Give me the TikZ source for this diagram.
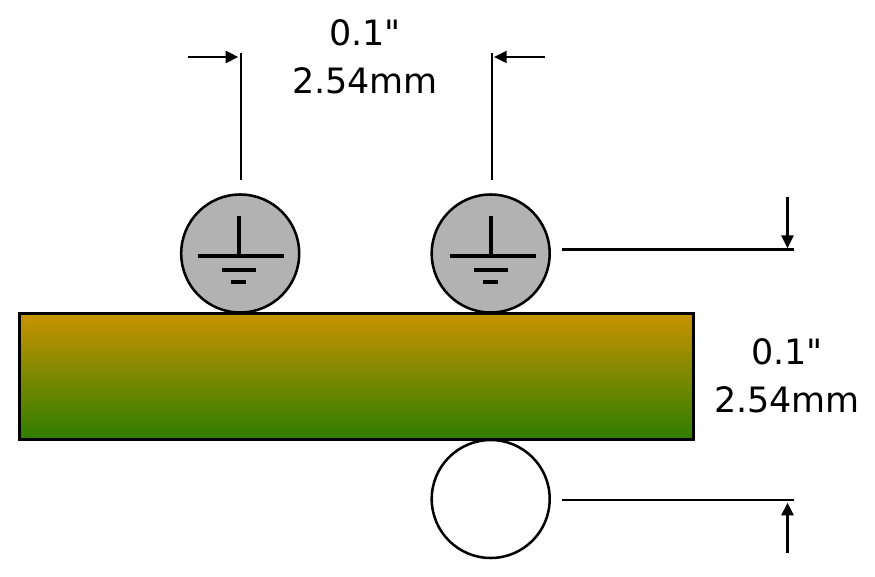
\documentclass[tikz,border=0pt]{standalone}
\usepackage{fontspec}
\setmainfont{DejaVu Sans}[Ligatures=TeXOff]
\usetikzlibrary{arrows.meta}

\begin{document}
\begin{tikzpicture}[
    x=0.75pt,
    y=-0.75pt,
    >={Triangle[length=9.5pt,width=9pt]},
    dim/.style = {
      line width = 1.7pt,
      black
    },
    pad/.style = {
      draw,
      line width = 1.9pt,
      circle,
      inner sep = 0pt,
      outer sep = 0pt,
      minimum size = 88.5pt
    },
    gnd/.style = {
      line width = 2.3pt
    },
    label/.style = {
      font=\fontsize{26.2}{36}\selectfont,
      align = center,
      inner sep = 0pt
    }
  ]
  \useasboundingbox (0,0) rectangle (875,577);
  % board and pads
  \node[draw, line width = 2.1pt, inner sep = 0pt, outer sep = 0pt,
        minimum width = 506pt, minimum height = 94pt,
        top color = {rgb,255:red,200;green,147;blue,0},
        bottom color = {rgb,255:red,47;green,125;blue,0}] (board) at (356.5,376.5) {};
  \node[pad, fill = black!30] (padl) at (240.2,253.5) {};
  \node[pad, fill = black!30] (padr) at (490.7,253.5) {};
  \node[pad, fill = white] (padb) at (490.7,499) {};
  % ground symbols
  \foreach \n/\o in {padl/-0.2,padr/1.3} {
    \draw[gnd] ([shift={(\o-1,-37)}]\n.center) -- ([shift={(\o-1,2.5)}]\n.center);
    \draw[gnd] ([shift={(\o-42.3,2.5)}]\n.center) -- ([shift={(\o+44,2.5)}]\n.center);
    \draw[gnd] ([shift={(\o-18.3,16.5)}]\n.center) -- ([shift={(\o+16,16.5)}]\n.center);
    \draw[gnd] ([shift={(\o-9,28.5)}]\n.center) -- ([shift={(\o+6,28.5)}]\n.center);
  }
  % width dimension
  \coordinate (wl1) at (241,53);
  \coordinate (wl2) at (241,180);
  \coordinate (wr1) at (492,53);
  \coordinate (wr2) at (492,180);
  \coordinate (al) at (188,57);
  \coordinate (ar) at (545,57);
  \draw[dim] (wl1) -- (wl2);
  \draw[dim] (wr1) -- (wr2);
  \draw[dim, ->, shorten >= 2pt] (al) -- (al -| wl1);
  \draw[dim, ->, shorten >= 1.5pt] (ar) -- (ar -| wr1);
  \node[label] (wtext) at (365,56.5) {0.1"\\2.54mm};
  % height dimension
  \coordinate (ht1) at (562,249.5);
  \coordinate (ht2) at (794,249.5);
  \coordinate (hb1) at (562,500);
  \coordinate (hb2) at (794,500);
  \coordinate (at) at (787.5,197);
  \coordinate (ab) at (787.5,553);
  \draw[dim] (ht1) -- (ht2);
  \draw[dim] (hb1) -- (hb2);
  \draw[dim, ->, shorten >= 1pt] (at) -- (at |- ht1);
  \draw[dim, ->, shorten >= 2pt] (ab) -- (ab |- hb1);
  \node[label] (htext) at (787,376) {0.1"\\2.54mm};
\end{tikzpicture}
\end{document}
